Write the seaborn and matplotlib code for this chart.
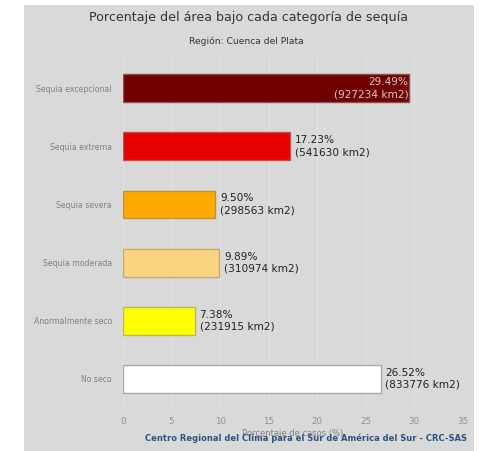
import matplotlib.pyplot as plt
import matplotlib.patches as mpatches
import pandas as pd
import seaborn as sns

# datos
categorias = ["Sequia excepcional", "Sequia extrema", "Sequia severa",
              "Sequia moderada", "Anormalmente seco", "No seco"]
porcentajes = [29.49, 17.23, 9.50, 9.89, 7.38, 26.52]
areas_km2 = [927234, 541630, 298563, 310974, 231915, 833776]
colores = ["#700000", "#e60000", "#ffaa00", "#fcd37f", "#ffff00", "#ffffff"]
bordes = ["#8a5050", "#c05050", "#c0903a", "#c8a870", "#b8b860", "#aaaaaa"]

df = pd.DataFrame({"categoria": categorias, "porcentaje": porcentajes})

fondo = "#d9d9d9"
sns.set_style("white")
plt.rcParams["font.family"] = ["DejaVu Sans"]

fig = plt.figure(figsize=(4.79, 4.51), dpi=100, facecolor="white")
# panel gris (detrás de los ejes)
fig.add_artist(mpatches.Rectangle((24 / 479, 0), 450 / 479, 446 / 451,
                                  transform=fig.transFigure, facecolor=fondo,
                                  edgecolor="none", zorder=-10))
ax = fig.add_axes([123 / 479, 1 - 405 / 451, (463 - 123) / 479, (405 - 58) / 451])
ax.set_facecolor(fondo)

sns.barplot(data=df, x="porcentaje", y="categoria", hue="categoria",
            palette=dict(zip(categorias, colores)), saturation=1, orient="h",
            width=0.48, legend=False, ax=ax, zorder=3)
for patch, borde in zip(ax.patches, bordes):
    patch.set_edgecolor(borde)
    patch.set_linewidth(1)

ax.set_xlim(0, 35)
ax.set_ylim(5.45, -0.52)
ax.set_xticks(range(0, 40, 5))
ax.grid(axis="x", color="#e1e1e1", linewidth=1, zorder=0)
ax.grid(axis="y", visible=False)
sns.despine(ax=ax, left=True, bottom=True)
ax.tick_params(axis="both", length=0, colors="#808080")
ax.tick_params(axis="y", pad=8, labelsize=5.6)
ax.tick_params(axis="x", pad=9, labelsize=6.3, colors="#909090")
ax.set_ylabel("")
ax.set_xlabel("Porcentaje de casos (%)", fontsize=6, color="#808080", labelpad=2)

# etiquetas de barras
for i, (p, a) in enumerate(zip(porcentajes, areas_km2)):
    texto = f"{p:.2f}%\n({a} km2)"
    if i == 0:
        ax.text(p - 0.1, i, texto, ha="right", va="center", fontsize=7.6,
                color="#d8c8c8", linespacing=1.25, zorder=4)
    else:
        ax.text(p + 0.5, i, texto, ha="left", va="center", fontsize=7.6,
                color="#222222", linespacing=1.25, zorder=4)

fig.text(249 / 479, 1 - 18 / 451, "Porcentaje del área bajo cada categoría de sequía",
         ha="center", va="center", fontsize=9.1, color="#333333")
fig.text(246 / 479, 1 - 41 / 451, "Región: Cuenca del Plata",
         ha="center", va="center", fontsize=6.6, color="#333333")
fig.text(306 / 479, 1 - 438 / 451,
         "Centro Regional del Clima para el Sur de América del Sur - CRC-SAS",
         ha="center", va="center", fontsize=6.0, fontweight="bold", color="#2b5580")

plt.savefig("out.png", dpi=100)
